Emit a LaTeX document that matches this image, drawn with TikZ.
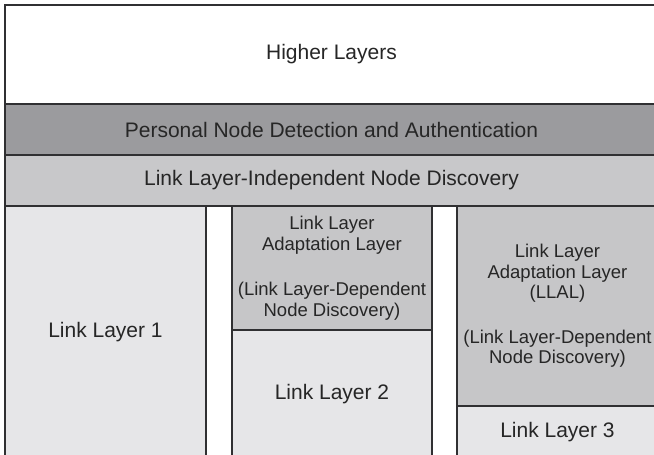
\documentclass[tikz,border=0pt]{standalone}
\usepackage{fontspec}
\setmainfont{Liberation Sans}
\definecolor{edgegray}{RGB}{48,48,50}
\definecolor{darkband}{RGB}{155,155,158}
\definecolor{midband}{RGB}{200,200,202}
\definecolor{llalfill}{RGB}{198,198,200}
\definecolor{linkfill}{RGB}{230,230,232}
\begin{document}
\begin{tikzpicture}[x=1pt,y=-1pt,
  layer/.style={draw=edgegray, line width=1.3pt, anchor=north west,
    inner sep=0pt, outer sep=0pt, align=center, text=black!85,
    font=\fontsize{21}{25}\selectfont},
  adapt/.style={layer, fill=llalfill, font=\fontsize{18.5}{20.5}\selectfont},
  link/.style={layer, fill=linkfill}]
\useasboundingbox (0,0) rectangle (654,455);
\clip (0,0) rectangle (654,455);
% stacked full-width layers
\node[layer, fill=white, minimum width=653pt, minimum height=99pt] (higher) at (5,5) {Higher Layers};
\node[layer, fill=darkband, minimum width=653pt, minimum height=51pt] (auth) at (5,104) {Personal Node Detection and Authentication};
\node[layer, fill=midband, minimum width=653pt, minimum height=51pt] (indep) at (5,155) {Link Layer-Independent Node Discovery};
% link layer columns
\node[link, minimum width=201pt, minimum height=252pt] (ll1) at (5,206) {Link Layer 1};
\node[adapt, minimum width=200pt, minimum height=124pt] (llal2) at (232,206)
  {Link Layer\\Adaptation Layer\\[25pt](Link Layer-Dependent\\Node Discovery)};
\node[link, minimum width=200pt, minimum height=128pt] (ll2) at (232,330) {Link Layer 2};
\node[adapt, minimum width=201pt, minimum height=200pt] (llal3) at (457,206)
  {Link Layer\\Adaptation Layer\\(LLAL)\\[24pt](Link Layer-Dependent\\Node Discovery)};
\node[link, minimum width=201pt, minimum height=52pt] (ll3) at (457,406) {Link Layer 3};
\end{tikzpicture}
\end{document}
